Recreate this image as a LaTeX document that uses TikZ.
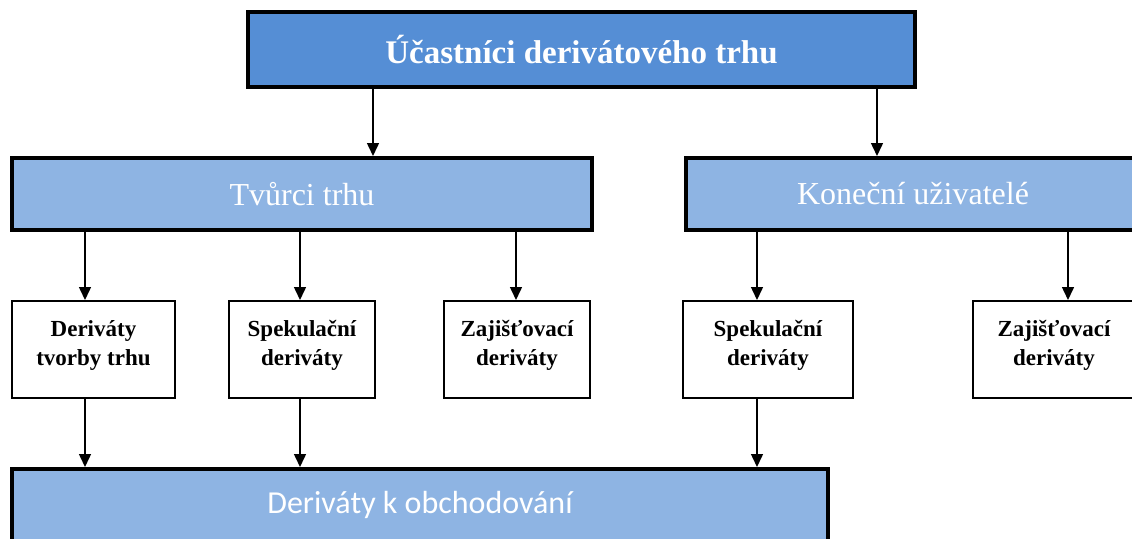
\documentclass[tikz,border=0pt]{standalone}
\usepackage{fontspec}
\setmainfont{Liberation Serif}
\newfontfamily\calib{Carlito}
\usetikzlibrary{arrows.meta}
\definecolor{topblue}{HTML}{558ED5}
\definecolor{midblue}{HTML}{8EB4E3}
\newcommand{\stxt}[1]{\raisebox{4pt}[\height][\depth]{\begin{tabular}{@{}c@{}}#1\end{tabular}}}
\tikzset{
  bigbox/.style={draw=black, line width=4pt, fill=midblue, text=white, inner sep=0pt},
  smallbox/.style={draw=black, line width=2pt, fill=white, align=center, inner sep=0pt, minimum height=97pt,
    font=\fontsize{23}{29}\selectfont\bfseries},
  arr/.style={line width=1.5pt, -{Triangle[width=12pt,length=13pt]}}
}
\begin{document}
\begin{tikzpicture}[x=1pt,y=-1pt]
\useasboundingbox (0,0) rectangle (1132,538);
\node[bigbox, fill=topblue, minimum width=667pt, minimum height=75pt,
  font=\fontsize{33}{38}\selectfont\bfseries] (top) at (581.5,49.5) {Účastníci derivátového trhu};
\node[bigbox, minimum width=580pt, minimum height=72pt, font=\fontsize{32}{38}\selectfont] (tv) at (302,194) {Tvůrci trhu};
\node[bigbox, minimum width=454pt, minimum height=72pt, font=\fontsize{32}{38}\selectfont] (ko) at (913,194) {Koneční uživatelé};
\node[smallbox, minimum width=163pt] (s1) at (93.5,349.5) {\stxt{Deriváty\\tvorby trhu}};
\node[smallbox, minimum width=146pt] (s2) at (302,349.5) {\stxt{Spekulační\\deriváty}};
\node[smallbox, minimum width=146pt] (s3) at (517,349.5) {\stxt{Zajišťovací\\deriváty}};
\node[smallbox, minimum width=170pt] (s4) at (768,349.5) {\stxt{Spekulační\\deriváty}};
\node[smallbox, minimum width=162pt] (s5) at (1054,349.5) {\stxt{Zajišťovací\\deriváty}};
\node[bigbox, minimum width=816pt, minimum height=72pt, font=\fontsize{32}{38}\selectfont\calib] (ob) at (420,505) {Deriváty k obchodování};
\coordinate (xa) at (373,0);
\coordinate (xb) at (877,0);
\coordinate (x1) at (85,0);
\coordinate (x2) at (300,0);
\coordinate (x3) at (516,0);
\coordinate (x4) at (757,0);
\coordinate (x5) at (1068,0);
\draw[arr] (top.south -| xa) -- (tv.north -| xa);
\draw[arr] (top.south -| xb) -- (ko.north -| xb);
\draw[arr] (tv.south -| x1) -- (s1.north -| x1);
\draw[arr] (tv.south -| x2) -- (s2.north -| x2);
\draw[arr] (tv.south -| x3) -- (s3.north -| x3);
\draw[arr] (ko.south -| x4) -- (s4.north -| x4);
\draw[arr] (ko.south -| x5) -- (s5.north -| x5);
\draw[arr] (s1.south -| x1) -- (ob.north -| x1);
\draw[arr] (s2.south -| x2) -- (ob.north -| x2);
\draw[arr] (s4.south -| x4) -- (ob.north -| x4);
\end{tikzpicture}
\end{document}
